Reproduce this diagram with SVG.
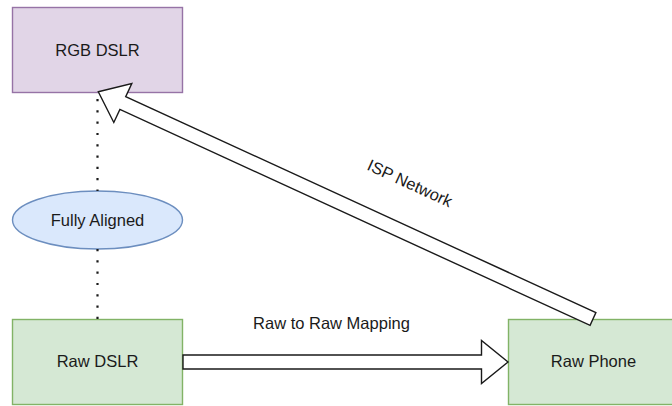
<svg xmlns="http://www.w3.org/2000/svg" width="672" height="406" viewBox="0 0 672 406">
  <style>
    .lbl { font-family: "Liberation Sans", Arial, Helvetica, sans-serif; font-size: 16.5px; fill: #1a1a1a; text-anchor: middle; }
    .purple { fill: #e1d5e7; stroke: #9673a6; stroke-width: 1.4; }
    .green { fill: #d5e8d4; stroke: #82b366; stroke-width: 1.4; }
    .blue { fill: #dae8fc; stroke: #6c8ebf; stroke-width: 1.4; }
    .flat { fill: #ffffff; stroke: #1a1a1a; stroke-width: 1.4; stroke-linejoin: miter; }
    .dots { fill: none; stroke: #1a1a1a; stroke-width: 2.2; stroke-dasharray: 2.2 9.1; }
  </style>

  <rect width="672" height="406" fill="#ffffff"/>

  <!-- nodes -->
  <g id="rgb-dslr">
    <rect class="purple" x="12.5" y="7.5" width="170" height="85"/>
    <text class="lbl" x="97.5" y="55.5">RGB DSLR</text>
  </g>
  <g id="fully-aligned">
    <ellipse class="blue" cx="97.5" cy="220" rx="85" ry="29"/>
    <text class="lbl" x="97.5" y="225.5">Fully Aligned</text>
  </g>
  <g id="raw-dslr">
    <rect class="green" x="12.5" y="319.5" width="170" height="85"/>
    <text class="lbl" x="97.5" y="367">Raw DSLR</text>
  </g>
  <g id="raw-phone">
    <rect class="green" x="508.5" y="319.5" width="170" height="85"/>
    <text class="lbl" x="593.5" y="367">Raw Phone</text>
  </g>

  <!-- connectors, drawn over the nodes -->
  <g id="connectors">
    <line class="dots" x1="97.5" y1="99" x2="97.5" y2="191"/>
    <line class="dots" x1="97.5" y1="249" x2="97.5" y2="320"/>
    <polygon class="flat" points="183,355 481.5,355 481.5,340.5 508,362 481.5,383.5 481.5,369 183,369"/>
    <polygon class="flat" points="98.3,91.7 131.8,83.5 125.7,96.6 595.9,312.6 590.1,325.4 119.9,109.4 113.8,122.5"/>
    <text class="lbl" x="331.5" y="329">Raw to Raw Mapping</text>
    <text class="lbl" transform="translate(410,183) rotate(24.68)" x="0" y="6">ISP Network</text>
  </g>
</svg>
